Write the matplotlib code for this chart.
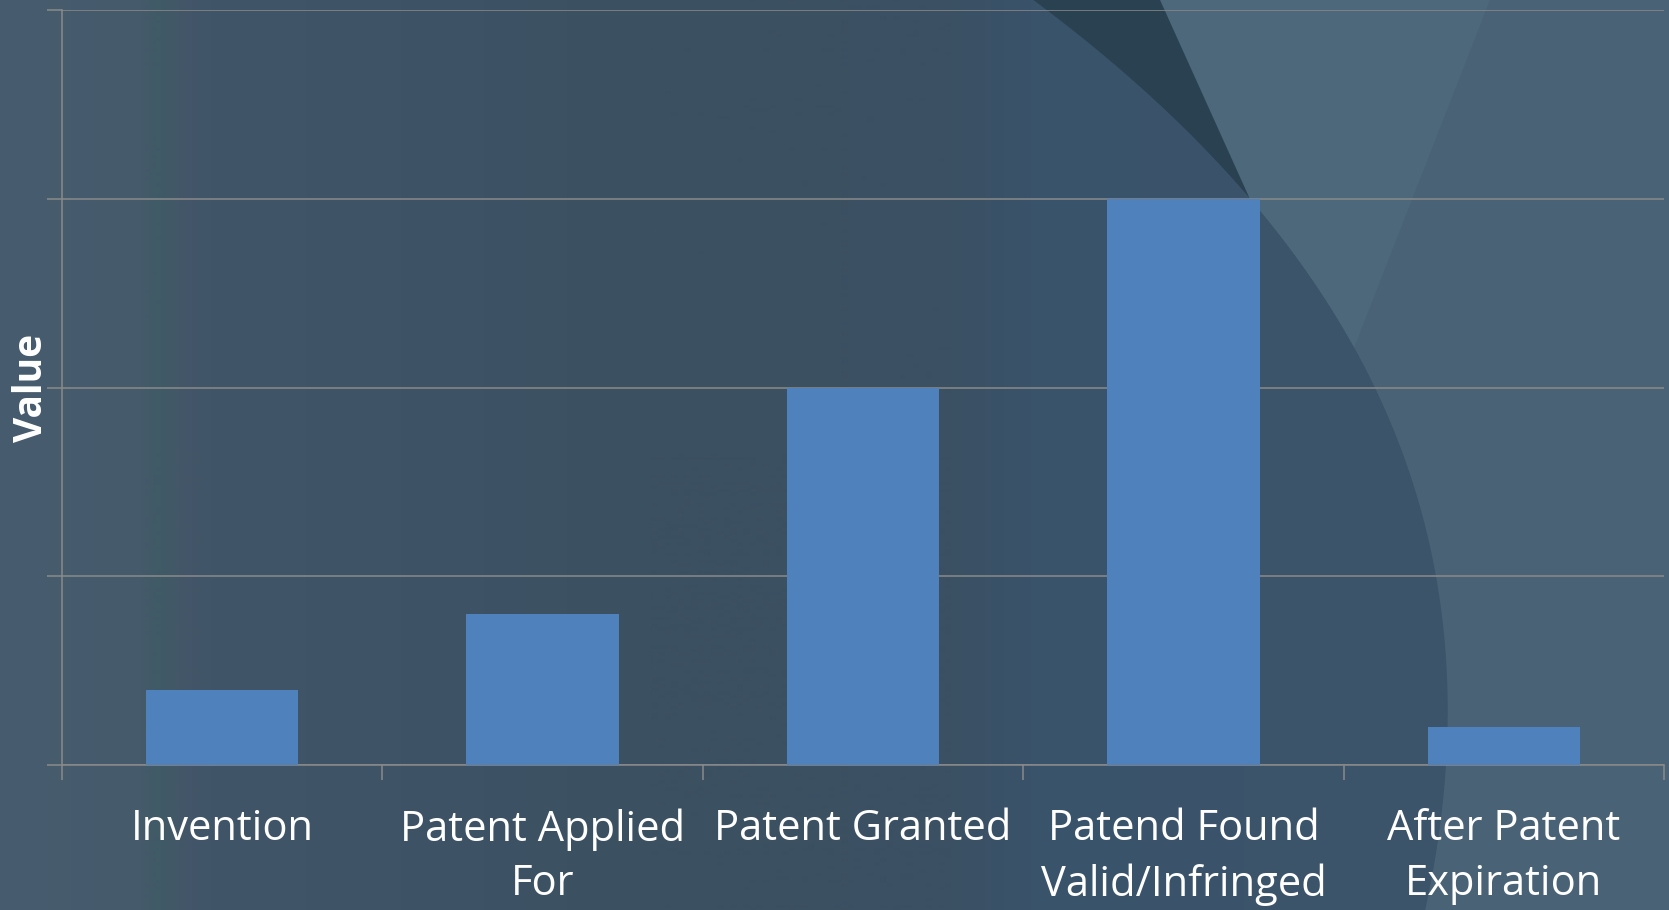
import matplotlib.pyplot as plt
import numpy as np
from matplotlib.patches import Polygon
from matplotlib.colors import to_rgb

# data
stages = ['Invention', 'Patent Applied\nFor', 'Patent Granted',
          'Patend Found\nValid/Infringed', 'After Patent\nExpiration']
values = [0.4, 0.8, 2.0, 3.0, 0.2]

W, H = 1669, 910
fig = plt.figure(figsize=(W / 100, H / 100), dpi=100)
fig.patch.set_facecolor('#42576a')

# background: vertical stripes + curved shapes (pixel coords)
bg = fig.add_axes([0, 0, 1, 1])
bg.set_xlim(0, W)
bg.set_ylim(H, 0)
bg.axis('off')

stops = [(0, '#475c6e'), (140, '#455a6b'), (160, '#405a66'), (185, '#445668'),
         (210, '#405568'), (400, '#3e5366'), (650, '#3b5060'), (950, '#3b5063'),
         (1030, '#39536a'), (1669, '#3f566b')]
xs = np.arange(W)
sx = [s[0] for s in stops]
cols = np.array([to_rgb(s[1]) for s in stops])
grad = np.stack([np.interp(xs, sx, cols[:, i]) for i in range(3)], axis=-1)
bg.imshow(grad[None, :, :], extent=[0, W, H, 0], aspect='auto', zorder=0)

# big arc edge, smoothed
ay = [0, 92, 198, 300, 420, 533, 640, 700, 800, 910]
axp = [1032, 1150, 1243, 1330, 1390, 1423, 1447, 1450, 1440, 1426]
coef = np.polyfit(ay, axp, 4)
yy = np.linspace(0, H, 200)
xx = np.polyval(coef, yy)
arc = list(zip(xx, yy))
bg.add_patch(Polygon(arc + [(W, H), (W, 0)], closed=True, fc='#4a6276', ec='none', zorder=1))

# slightly teal wedge on top of the arc
y_tip = 198
sel = (yy >= y_tip) & (yy <= 350)
wedge = [(1160, 0), (np.polyval(coef, y_tip), y_tip)] + list(zip(xx[sel], yy[sel])) + [(1490, 0)]
bg.add_patch(Polygon(wedge, closed=True, fc='#4c687a', ec='none', zorder=1))

# dark sliver
sel = yy <= y_tip
sliver = list(zip(xx[sel], yy[sel])) + [(np.polyval(coef, y_tip), y_tip), (1160, 0)]
bg.add_patch(Polygon(sliver, closed=True, fc='#2a4151', ec='none', zorder=2))

ax = fig.add_axes([62 / W, 1 - 765 / H, (1664 - 62) / W, (765 - 10) / H])
ax.patch.set_alpha(0)

x = np.arange(len(stages))
ax.bar(x, values, width=0.476, color='#4f81bd', zorder=3)

ax.set_xlim(-0.5, len(stages) - 0.5)
ax.set_ylim(0, 4)
ax.set_yticks(np.arange(0, 5))
ax.set_yticklabels([])
ax.grid(axis='y', color='#8a8a8a', linewidth=1.1, zorder=1)
ax.set_axisbelow(True)

ax.set_xticks(x)
ax.set_xticklabels(stages, fontsize=30, color='white', family='Open Sans',
                   linespacing=1.4)
ax.set_xticks(np.arange(-0.5, len(stages)), minor=True)
ax.tick_params(axis='x', which='major', length=0, pad=31)
ax.tick_params(axis='x', which='minor', length=11, width=1.1, color='#8a8a8a')
ax.tick_params(axis='y', length=11, width=1.1, color='#8a8a8a')

for s in ['top', 'right']:
    ax.spines[s].set_visible(False)
for s in ['left', 'bottom']:
    ax.spines[s].set_color('#8a8a8a')
    ax.spines[s].set_linewidth(1.1)

ax.set_ylabel('Value', fontsize=28, fontweight='bold', color='white',
              family='Open Sans', va='center')
ax.yaxis.set_label_coords(-0.019, 0.5)

fig.savefig('out.png', dpi=100, facecolor=fig.get_facecolor())
